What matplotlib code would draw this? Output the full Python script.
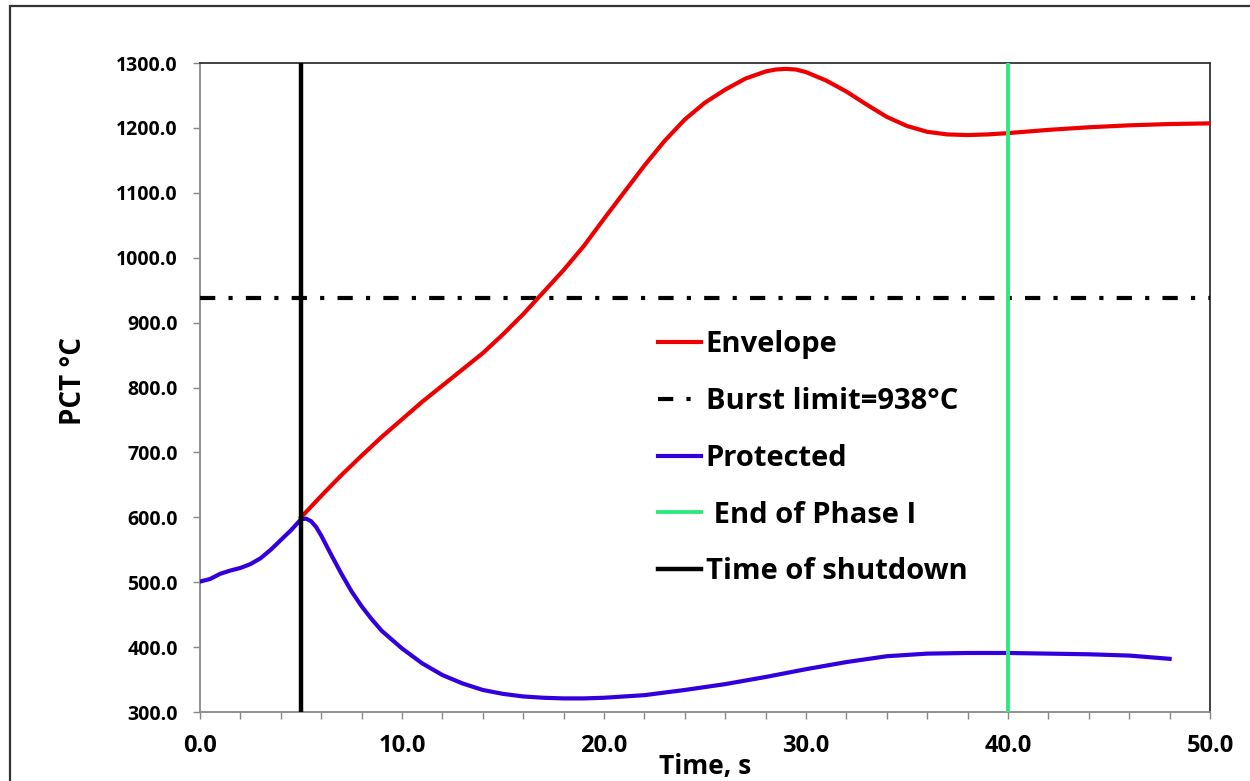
import numpy as np
import matplotlib
matplotlib.use("Agg")
import matplotlib.pyplot as plt
from matplotlib.patches import Rectangle

plt.rcParams['font.family'] = ['Open Sans', 'DejaVu Sans']
plt.rcParams['font.weight'] = 'bold'
plt.rcParams['lines.scale_dashes'] = False

# envelope PCT, starts at shutdown
env_t = [5, 6, 7, 8, 9, 10, 11, 12, 13, 14, 15, 16, 17, 18, 19, 20, 21, 22, 23, 24, 25,
         26, 27, 28, 28.5, 29, 29.5, 30, 31, 32, 33, 34, 35, 36, 37, 38, 39, 40, 42, 44, 46, 48, 50]
env_T = [600, 633, 665, 695, 724, 751, 778, 803, 828, 853, 882, 913, 947, 981, 1018, 1060, 1101, 1142, 1180, 1213, 1239,
         1259, 1276, 1287, 1290, 1291, 1290, 1286, 1273, 1256, 1236, 1217, 1203, 1194, 1190, 1189, 1190, 1192, 1197, 1201, 1204, 1206, 1207]

# protected case
prot_t = [0, 0.5, 1, 1.5, 2, 2.5, 3, 3.5, 4, 4.5, 5, 5.25, 5.5, 5.75, 6, 6.5, 7, 7.5, 8, 8.5, 9, 10, 11, 12, 13, 14, 15,
          16, 17, 18, 19, 20, 22, 24, 26, 28, 30, 32, 34, 36, 38, 40, 42, 44, 46, 48]
prot_T = [501, 505, 513, 518, 522, 528, 537, 550, 565, 580, 597, 598, 594, 585, 572, 542, 513, 486, 463, 443, 425, 398, 375, 357, 344, 334, 328,
          324, 322, 321, 321, 322, 326, 334, 343, 354, 366, 377, 386, 390, 391, 391, 390, 389, 387, 382]

burst_limit = 938
t_shutdown = 5
t_phase1 = 40

fig = plt.figure(figsize=(12.5, 7.81), dpi=100)
ax = fig.add_axes([0.16, 0.0883, 0.808, 0.831])

ax.plot(env_t, env_T, color='#EE0000', lw=3, label='Envelope', zorder=4)
ax.axhline(burst_limit, color='black', lw=3, linestyle=(0, (11, 9.5, 3, 9.5)), label='Burst limit=938°C', zorder=3)
ax.plot(prot_t, prot_T, color='#3300DD', lw=3, label='Protected', zorder=4)
ax.axvline(t_phase1, color='#2EEA7E', lw=2.8, label=' End of Phase I', zorder=5)
ax.axvline(t_shutdown, color='black', lw=3.2, label='Time of shutdown', zorder=5)

ax.set_xlim(0, 50)
ax.set_ylim(300, 1300)
ax.set_xticks(np.arange(0, 51, 10))
ax.set_xticks(np.arange(0, 51, 2), minor=True)
ax.set_yticks(np.arange(300, 1301, 100))
ax.xaxis.set_major_formatter(matplotlib.ticker.FormatStrFormatter('%.1f'))
ax.yaxis.set_major_formatter(matplotlib.ticker.FormatStrFormatter('%.1f'))
ax.tick_params(which='both', direction='out', length=5, width=1, color='#888888', labelsize=14)
ax.tick_params(axis='x', which='major', pad=11, labelsize=17)
ax.tick_params(axis='y', pad=11)

for s in ['left', 'bottom']:
    ax.spines[s].set_color('#888888')
for s in ['top', 'right']:
    ax.spines[s].set_color('#333333')
for s in ax.spines.values():
    s.set_linewidth(1.3)

ax.set_xlabel('Time, s', fontsize=19, fontweight='bold', labelpad=-4)
ax.set_ylabel('PCT °C', fontsize=20, fontweight='bold')
ax.yaxis.set_label_coords(-0.111, 0.51)

ax.legend(loc='upper left', bbox_to_anchor=(0.453, 0.588), frameon=False, fontsize=21,
          handlelength=1.5, handletextpad=0.15, labelspacing=0.95, borderpad=0, borderaxespad=0)

fig.patches.append(Rectangle((0.008, -0.1), 1.2, 1.0923, transform=fig.transFigure,
                             fill=False, edgecolor='#333333', lw=1.6))

fig.savefig('out.png', dpi=100)
